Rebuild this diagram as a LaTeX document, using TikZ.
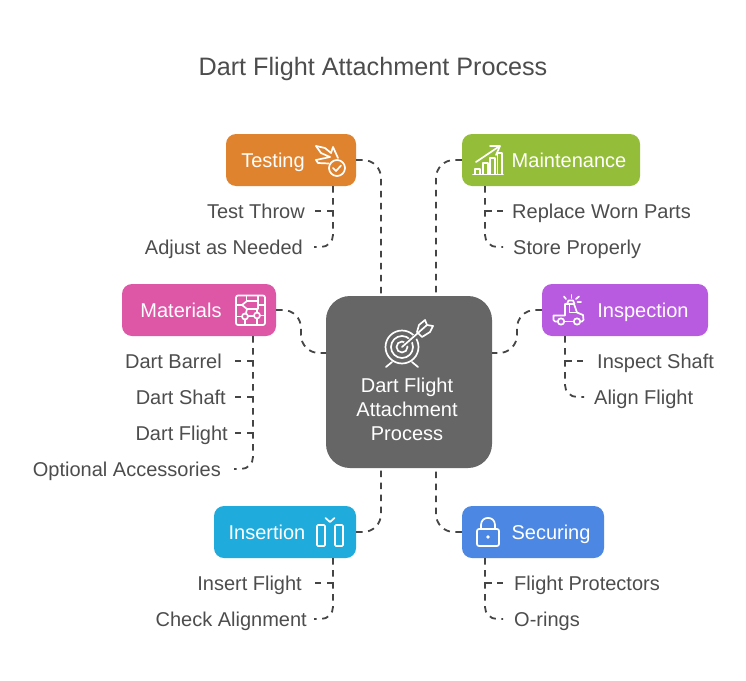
\documentclass[tikz,border=0pt]{standalone}
\usepackage{fontspec}
\setmainfont{Liberation Sans}
\usetikzlibrary{calc}
\definecolor{ink}{HTML}{4D4D4D}
\definecolor{line}{HTML}{454545}
\definecolor{ctr}{HTML}{666666}
\definecolor{cOrange}{HTML}{E0832F}
\definecolor{cGreen}{HTML}{94BD3A}
\definecolor{cPink}{HTML}{DE57A7}
\definecolor{cPurple}{HTML}{B85BE0}
\definecolor{cCyan}{HTML}{1FABDC}
\definecolor{cBlue}{HTML}{4C87E4}
\tikzset{
  x=1pt,y=-1pt,
  box/.style={rectangle,rounded corners=10pt,minimum height=52pt,inner sep=0pt},
  lab/.style={inner sep=0pt,text=ink,text height=14pt,text depth=4pt,yshift=-2pt,font=\fontsize{20}{24}\selectfont},
  conn/.style={draw=line,line width=1.8pt,dash pattern=on 6.5pt off 5.5pt,rounded corners=18pt},
  stub/.style={draw=line,line width=1.8pt,dash pattern=on 6.5pt off 5.5pt,rounded corners=12pt},
  ico/.style={draw=white,line width=1.7pt,line cap=round,line join=round},
  boxtext/.style={text=white,inner sep=0pt,text height=14pt,text depth=4pt,yshift=-2pt,font=\fontsize{20}{24}\selectfont},
}
\begin{document}
\begin{tikzpicture}
\useasboundingbox[fill=white] (0,0) rectangle (746,680);
\node[inner sep=0pt,text=ink,yshift=-2.5pt,font=\fontsize{25.2}{30}\selectfont] (title) at (373,66) {Dart Flight Attachment Process};

% boxes
\node[box,fill=cOrange,minimum width=130pt] (testing) at (291,160) {};
\node[box,fill=cGreen,minimum width=178pt] (maint) at (551,160) {};
\node[box,fill=cPink,minimum width=154pt] (materials) at (199,310) {};
\node[box,fill=cPurple,minimum width=166pt] (inspection) at (625,310) {};
\node[box,fill=cCyan,minimum width=142pt] (insertion) at (285,532) {};
\node[box,fill=cBlue,minimum width=142pt] (securing) at (533,532) {};
\node[rectangle,rounded corners=24pt,fill=ctr,minimum width=166pt,minimum height=172pt,inner sep=0pt] (center) at (409,382) {};

% box captions
\node[boxtext] (tTesting) at (273,160) {Testing};
\node[boxtext] (tMaint) at (569,160) {Maintenance};
\node[boxtext] (tMaterials) at (181,310) {Materials};
\node[boxtext] (tInspection) at (643,310) {Inspection};
\node[boxtext] (tInsertion) at (267,532) {Insertion};
\node[boxtext] (tSecuring) at (551,532) {Securing};
\node[boxtext] (tC1) at (407,385) {Dart Flight};
\node[boxtext] (tC2) at (407,409) {Attachment};
\node[boxtext] (tC3) at (407,433) {Process};

% labels
\node[lab,anchor=east] (l1) at (305,211) {Test Throw};
\node[lab,anchor=east] (l2) at (303,247) {Adjust as Needed};
\node[lab,anchor=west] (l3) at (512,211) {Replace Worn Parts};
\node[lab,anchor=west] (l4) at (513,247) {Store Properly};
\node[lab,anchor=east] (l5) at (222,361) {Dart Barrel};
\node[lab,anchor=east] (l6) at (226,397) {Dart Shaft};
\node[lab,anchor=east] (l7) at (228,433) {Dart Flight};
\node[lab,anchor=east] (l8) at (221,469) {Optional Accessories};
\node[lab,anchor=west] (l9) at (597,361) {Inspect Shaft};
\node[lab,anchor=west] (l10) at (594,397) {Align Flight};
\node[lab,anchor=east] (l11) at (302,583) {Insert Flight};
\node[lab,anchor=east] (l12) at (307,619) {Check Alignment};
\node[lab,anchor=west] (l13) at (514,583) {Flight Protectors};
\node[lab,anchor=west] (l14) at (514,619) {O-rings};

% anchor points on the central box
\coordinate (cTL) at (381,296);
\coordinate (cTR) at (436,296);
\coordinate (cBL) at (381,468);
\coordinate (cBR) at (436,468);
\coordinate (cL) at (326,353);
\coordinate (cR) at (492,353);

% main connectors
\draw[conn] (testing.east) -- (381,160) -- (cTL);
\draw[conn] (maint.west) -- (436,160) -- (cTR);
\draw[conn] (materials.east) -- (301,310) -- (301,353) -- (cL);
\draw[conn] (inspection.west) -- (517,310) -- (517,353) -- (cR);
\draw[conn] (insertion.east) -- (381,532) -- (cBL);
\draw[conn] (securing.west) -- (436,532) -- (cBR);

% free ends of the branches
\coordinate (e1) at (315,211);
\coordinate (e2) at (314,247);
\coordinate (e3) at (503,211);
\coordinate (e4) at (503,247);
\coordinate (e5) at (235,361);
\coordinate (e6) at (235,397);
\coordinate (e7) at (235,433);
\coordinate (e8) at (234,469);
\coordinate (e9) at (583,361);
\coordinate (e10) at (584,397);
\coordinate (e11) at (315,583);
\coordinate (e12) at (314,619);
\coordinate (e13) at (503,583);
\coordinate (e14) at (503,619);

% branches
\draw[stub] (333,186) -- (333,247) -- (e2);
\draw[stub] (333,211) -- (e1);
\draw[stub] (485,186) -- (485,247) -- (e4);
\draw[stub] (485,211) -- (e3);
\draw[stub] (253,336) -- (253,469) -- (e8);
\draw[stub] (253,361) -- (e5);
\draw[stub] (253,397) -- (e6);
\draw[stub] (253,433) -- (e7);
\draw[stub] (565,336) -- (565,397) -- (e10);
\draw[stub] (565,361) -- (e9);
\draw[stub] (333,558) -- (333,619) -- (e12);
\draw[stub] (333,583) -- (e11);
\draw[stub] (485,558) -- (485,619) -- (e14);
\draw[stub] (485,583) -- (e13);

% --- icons ---
% testing
\draw[ico] (316,146) -- (325,148) -- (331,153) -- (333,147) -- (338,158);
\draw[ico] (316,146) -- (321,153) -- (330,157) -- (316,160) -- (318,163) -- (329,163.5);
\fill[cOrange] (337,168) circle (9);
\draw[ico] (337,168) circle (8);
\draw[ico] (333,168) -- (336,171) -- (341,165.5);

% maintenance
\draw[ico] (476,162) -- (499,146.5);
\draw[ico] (490,146) -- (500,146) -- (496,155);
\draw[ico] (473,174.5) -- (503,174.5);
\draw[ico] (475,174) -- (475,169) -- (480,169) -- (480,174);
\draw[ico] (483,174) -- (483,163) -- (488,163) -- (488,174);
\draw[ico] (490,174) -- (490,158) -- (495,158) -- (495,174);
\draw[ico] (497.5,174) -- (497.5,153) -- (502,153) -- (502,174);

% materials
\draw[ico,rounded corners=2pt] (236,295.5) rectangle (265,325);
\draw[ico] (242,305) -- (247,301) -- (258,301) -- (258,309) -- (247,309) -- cycle;
\draw[ico] (246.5,296) -- (246.5,301);
\draw[ico] (258,296) -- (258,301);
\draw[ico] (236,305) -- (242,305);
\draw[ico] (258,305) -- (265,305);
\draw[ico] (247,309) -- (246,313);
\draw[ico] (257,309) -- (257,312.5);
\draw[ico] (245,316.5) circle (3);
\draw[ico] (257,315.5) circle (3);
\draw[ico] (236,316.5) -- (242,316.5);
\draw[ico] (248,316) -- (254,316);
\draw[ico] (260,315.5) -- (265,315.5);
\draw[ico] (245,319.5) -- (245,325);
\draw[ico] (257,318.5) -- (257,325);

% inspection
\draw[ico] (558,321.5) -- (555,321.5) -- (553.5,320) -- (553.5,315.5) -- (565,315.5) -- (565,304) -- (574,304) -- (577,312.5) -- (583,315) -- (583.5,320) -- (582,321.5) -- (580,321.5);
\draw[ico] (564.5,321.5) -- (573.5,321.5);
\draw[ico] (561,321.5) circle (3.2);
\draw[ico] (577,321.5) circle (3.2);
\draw[ico] (569.5,304) -- (569.5,312.5) -- (577,312.5);
\draw[ico] (567,304) -- (568.5,300.5) -- (573,300.5) -- (574.5,304);
\draw[ico] (571.5,298) -- (571.5,295);
\draw[ico] (566,299) -- (564,296.5);
\draw[ico] (576,299) -- (579,296.5);
\draw[ico] (577.5,302) -- (581,302);

% insertion
\draw[ico,rounded corners=1pt] (317,525) rectangle (325,546);
\draw[ico,rounded corners=1pt] (335,525) rectangle (343,546);
\draw[ico] (325.5,518) -- (330,522) -- (334.5,518);

% securing
\draw[ico,rounded corners=2pt] (477,529) rectangle (499,546);
\draw[ico] (481,529) -- (481,525) .. controls (481,515.5) and (495,515.5) .. (495,525) -- (495,529);
\fill[white] (488,537) circle (1.8);

% target
\draw[ico] (402,347) circle (16.5);
\draw[ico] (402,347) circle (11);
\draw[ico] (402,347) circle (5.5);
\draw[draw=ctr,line width=4.5pt] (405,344.7) -- (420,333);
\draw[ico] (402,347) -- (427,325);
\draw[ico] (392,362) -- (386,367);
\draw[ico] (412,362) -- (418,367);
\draw[ico] (417,332) -- (419,325) -- (425,320) -- (427,325) -- (433,326) -- (430,332) -- (422,337) -- cycle;
\end{tikzpicture}
\end{document}
